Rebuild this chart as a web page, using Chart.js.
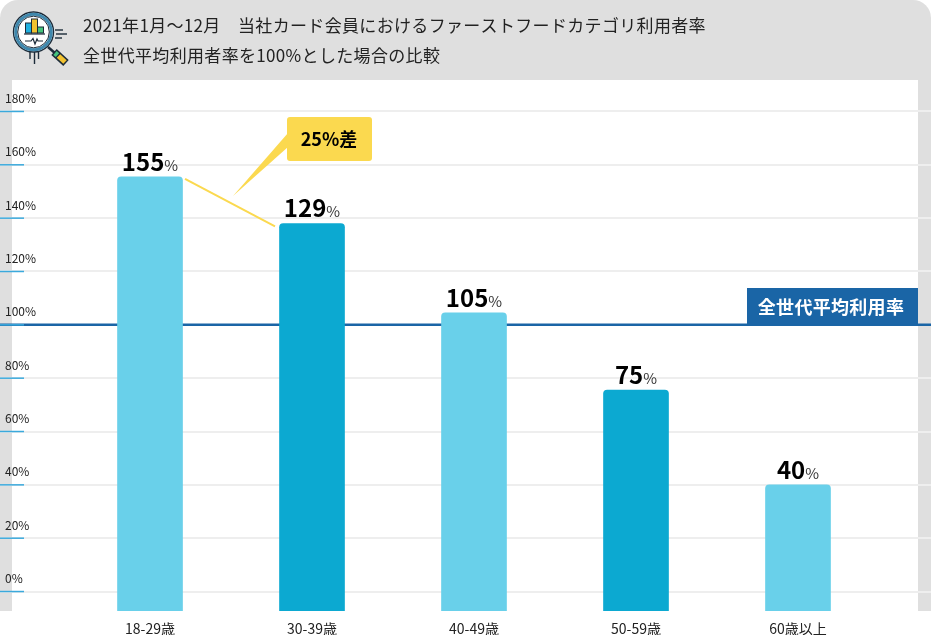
<!DOCTYPE html>
<html lang="ja">
<head>
<meta charset="utf-8">
<title>ファーストフードカテゴリ利用者率</title>
<script src="https://cdn.jsdelivr.net/npm/chart.js@4"></script>
<style>
  html, body { margin: 0; padding: 0; background: #fff; }
  #wrap { width: 931px; height: 635px; }
</style>
</head>
<body>
<div id="wrap"><canvas id="chart" width="931" height="635"></canvas></div>
<script>
const FONT = '"Noto Sans CJK JP", "Noto Sans", sans-serif';

const categories = ["18-29歳", "30-39歳", "40-49歳", "50-59歳", "60歳以上"];
const barPositions = [0, 1, 2, 3, 4];
// heights as drawn in the picture (the 129% bar is drawn taller than its label)
const barHeights = [155.5, 138, 104.5, 75.5, 40];
const valueLabels = ["155", "129", "105", "75", "40"];
const barColors = ["#69d0ea", "#0ca9d1", "#69d0ea", "#0ca9d1", "#69d0ea"];
const yTicks = [0, 20, 40, 60, 80, 100, 120, 140, 160, 180];
const averageValue = 100;
const titleLines = [
  "2021年1月～12月　当社カード会員におけるファーストフードカテゴリ利用者率",
  "全世代平均利用者率を100%とした場合の比較",
];
const averageLabel = "全世代平均利用率";
const diffLabel = "25%差";

const Y_MIN = -7.3, Y_MAX = 191.8;
const X_MIN = -0.926, X_MAX = 4.821;

function drawIcon(ctx) {
  const dark = "#1c2b39";
  ctx.save();
  ctx.lineCap = "butt";
  // speed lines
  ctx.strokeStyle = dark;
  ctx.lineWidth = 1.4;
  [[55, 30, 63], [56, 34, 67], [55, 38, 62]].forEach(([x1, y, x2]) => {
    ctx.beginPath(); ctx.moveTo(x1, y); ctx.lineTo(x2, y); ctx.stroke();
  });
  [[30, 52, 59], [34.5, 52, 64], [38.5, 52, 59]].forEach(([x, y1, y2]) => {
    ctx.beginPath(); ctx.moveTo(x, y1); ctx.lineTo(x, y2); ctx.stroke();
  });
  // handle
  ctx.strokeStyle = dark;
  ctx.lineWidth = 2.5;
  ctx.beginPath(); ctx.moveTo(48, 47); ctx.lineTo(56, 54); ctx.stroke();
  ctx.lineWidth = 8;
  ctx.beginPath(); ctx.moveTo(54, 52); ctx.lineTo(66, 63); ctx.stroke();
  ctx.strokeStyle = "#f2c230";
  ctx.lineWidth = 5;
  ctx.beginPath(); ctx.moveTo(58.5, 56); ctx.lineTo(65, 62); ctx.stroke();
  ctx.strokeStyle = "#45c47c";
  ctx.beginPath(); ctx.moveTo(55, 53); ctx.lineTo(57.5, 55.2); ctx.stroke();
  // lens
  ctx.beginPath(); ctx.arc(33.5, 32, 20, 0, Math.PI * 2);
  ctx.fillStyle = "#fff"; ctx.fill();
  ctx.strokeStyle = dark; ctx.lineWidth = 1.4; ctx.stroke();
  ctx.beginPath(); ctx.arc(33.5, 32, 17.8, 0, Math.PI * 2);
  ctx.strokeStyle = "#3f88ad"; ctx.lineWidth = 3; ctx.stroke();
  ctx.beginPath(); ctx.arc(33.5, 32, 15.8, 0, Math.PI * 2);
  ctx.strokeStyle = dark; ctx.lineWidth = 1; ctx.stroke();
  // small bars inside
  ctx.lineWidth = 1;
  [[25.5, 23, 6, 10, "#1fb0e0"], [31.5, 19, 6, 14, "#f2c230"], [37.5, 27, 6, 6, "#45c47c"]].forEach(([x, y, w, h, c]) => {
    ctx.fillStyle = c; ctx.fillRect(x, y, w, h);
    ctx.strokeStyle = dark; ctx.strokeRect(x, y, w, h);
  });
  ctx.lineWidth = 1.2;
  ctx.beginPath(); ctx.moveTo(24, 34); ctx.lineTo(45, 34); ctx.stroke();
  // pulse
  ctx.beginPath();
  [[25, 41], [31, 41], [33, 38.5], [35, 44], [37, 39], [38, 41], [43, 41]].forEach(([x, y], i) => {
    if (i === 0) ctx.moveTo(x, y); else ctx.lineTo(x, y);
  });
  ctx.stroke();
  ctx.restore();
}

// grey frame and header go under the chart
const framePlugin = {
  id: "frame",
  beforeDraw(chart) {
    const { ctx, chartArea } = chart;
    ctx.save();
    ctx.fillStyle = "#dfdfdf";
    ctx.beginPath();
    ctx.roundRect(0, 0, 931, 80, [18, 18, 0, 0]);
    ctx.fill();
    ctx.fillRect(0, chartArea.top, 12, chartArea.height);
    ctx.fillRect(918, chartArea.top, 13, chartArea.height);
    drawIcon(ctx);
    ctx.fillStyle = "#222";
    ctx.font = "17px " + FONT;
    ctx.letterSpacing = "0.33px";
    ctx.textBaseline = "middle";
    ctx.textAlign = "left";
    ctx.fillText(titleLines[0], 83, 26);
    ctx.fillText(titleLines[1], 83, 56);
    ctx.letterSpacing = "0px";
    ctx.restore();
  },
  afterDatasetsDraw(chart) {
    const { ctx, scales } = chart;
    const y = scales.y;
    const bars = chart.getDatasetMeta(0).data;
    ctx.save();

    // blue tick marks on the left
    ctx.strokeStyle = "#3aa9dc";
    ctx.lineWidth = 1.5;
    yTicks.forEach((v) => {
      const py = y.getPixelForValue(v);
      ctx.beginPath(); ctx.moveTo(0, py); ctx.lineTo(24, py); ctx.stroke();
    });

    // value labels
    ctx.textBaseline = "alphabetic";
    ctx.textAlign = "left";
    ctx.fillStyle = "#000";
    bars.forEach((bar, i) => {
      ctx.font = "bold 24px " + FONT;
      const w1 = ctx.measureText(valueLabels[i]).width;
      ctx.font = "15px " + FONT;
      const w2 = ctx.measureText("%").width;
      const left = bar.x - (w1 + w2) / 2;
      ctx.font = "bold 24px " + FONT;
      ctx.fillText(valueLabels[i], left, bar.y - 6);
      ctx.font = "15px " + FONT;
      ctx.fillStyle = "#333";
      ctx.fillText("%", left + w1, bar.y - 6);
      ctx.fillStyle = "#000";
    });

    // connector between first two bars and the callout
    const yellow = "#fbd94f";
    ctx.strokeStyle = yellow;
    ctx.lineWidth = 2;
    ctx.beginPath();
    ctx.moveTo(bars[0].x + 35, bars[0].y + 2);
    ctx.lineTo(bars[1].x - 37, bars[1].y + 3);
    ctx.stroke();
    ctx.fillStyle = yellow;
    ctx.beginPath();
    ctx.roundRect(287, 117, 85, 44, 3);
    ctx.fill();
    ctx.beginPath();
    ctx.moveTo(288, 133); ctx.lineTo(233, 196); ctx.lineTo(288, 147);
    ctx.closePath();
    ctx.fill();
    ctx.fillStyle = "#000";
    ctx.font = "bold 18px " + FONT;
    ctx.textAlign = "center";
    ctx.textBaseline = "middle";
    ctx.fillText(diffLabel, 329, 139);

    // average tag
    const py = y.getPixelForValue(averageValue);
    ctx.fillStyle = "#1a65a6";
    ctx.fillRect(747, 288, 171, py - 288);
    ctx.fillStyle = "#fff";
    ctx.letterSpacing = "0.3px";
    ctx.fillText(averageLabel, 831, 307);
    ctx.letterSpacing = "0px";
    ctx.restore();
  },
};

new Chart(document.getElementById("chart"), {
  data: {
    datasets: [
      {
        type: "bar",
        order: 1,
        data: barPositions.map((x, i) => ({ x, y: barHeights[i] })),
        base: Y_MIN,
        backgroundColor: barColors,
        barThickness: 65,
        borderRadius: { topLeft: 4, topRight: 4 },
        borderSkipped: false,
      },
      {
        // higher order is drawn first, so the average line runs behind the bars
        type: "line",
        order: 2,
        data: [{ x: X_MIN, y: averageValue }, { x: X_MAX, y: averageValue }],
        borderColor: "#1a65a6",
        borderWidth: 2.5,
        pointRadius: 0,
      },
    ],
  },
  plugins: [framePlugin],
  options: {
    responsive: false,
    animation: false,
    layout: { padding: { top: 80 } },
    plugins: { legend: { display: false }, tooltip: { enabled: false } },
    scales: {
      x: {
        type: "linear",
        offset: false,
        min: X_MIN,
        max: X_MAX,
        afterBuildTicks(scale) { scale.ticks = barPositions.map((value) => ({ value })); },
        afterFit(scale) { scale.height = 24; },
        ticks: {
          callback: (v) => categories[v],
          maxRotation: 0,
          autoSkip: false,
          padding: 1,
          color: "#222",
          font: { family: FONT, size: 14 },
        },
        grid: { display: false, offset: false },
        border: { display: false },
      },
      y: {
        min: Y_MIN,
        max: Y_MAX,
        afterBuildTicks(scale) { scale.ticks = yTicks.map((value) => ({ value })); },
        afterFit(scale) { scale.width = 0; },
        ticks: {
          callback: (v) => v + "%",
          mirror: true,
          padding: 5,
          labelOffset: -13,
          color: "#222",
          font: { family: FONT, size: 12 },
        },
        grid: { color: "#eeeeee", lineWidth: 2, drawTicks: false },
        border: { display: false },
      },
    },
  },
});
</script>
</body>
</html>
